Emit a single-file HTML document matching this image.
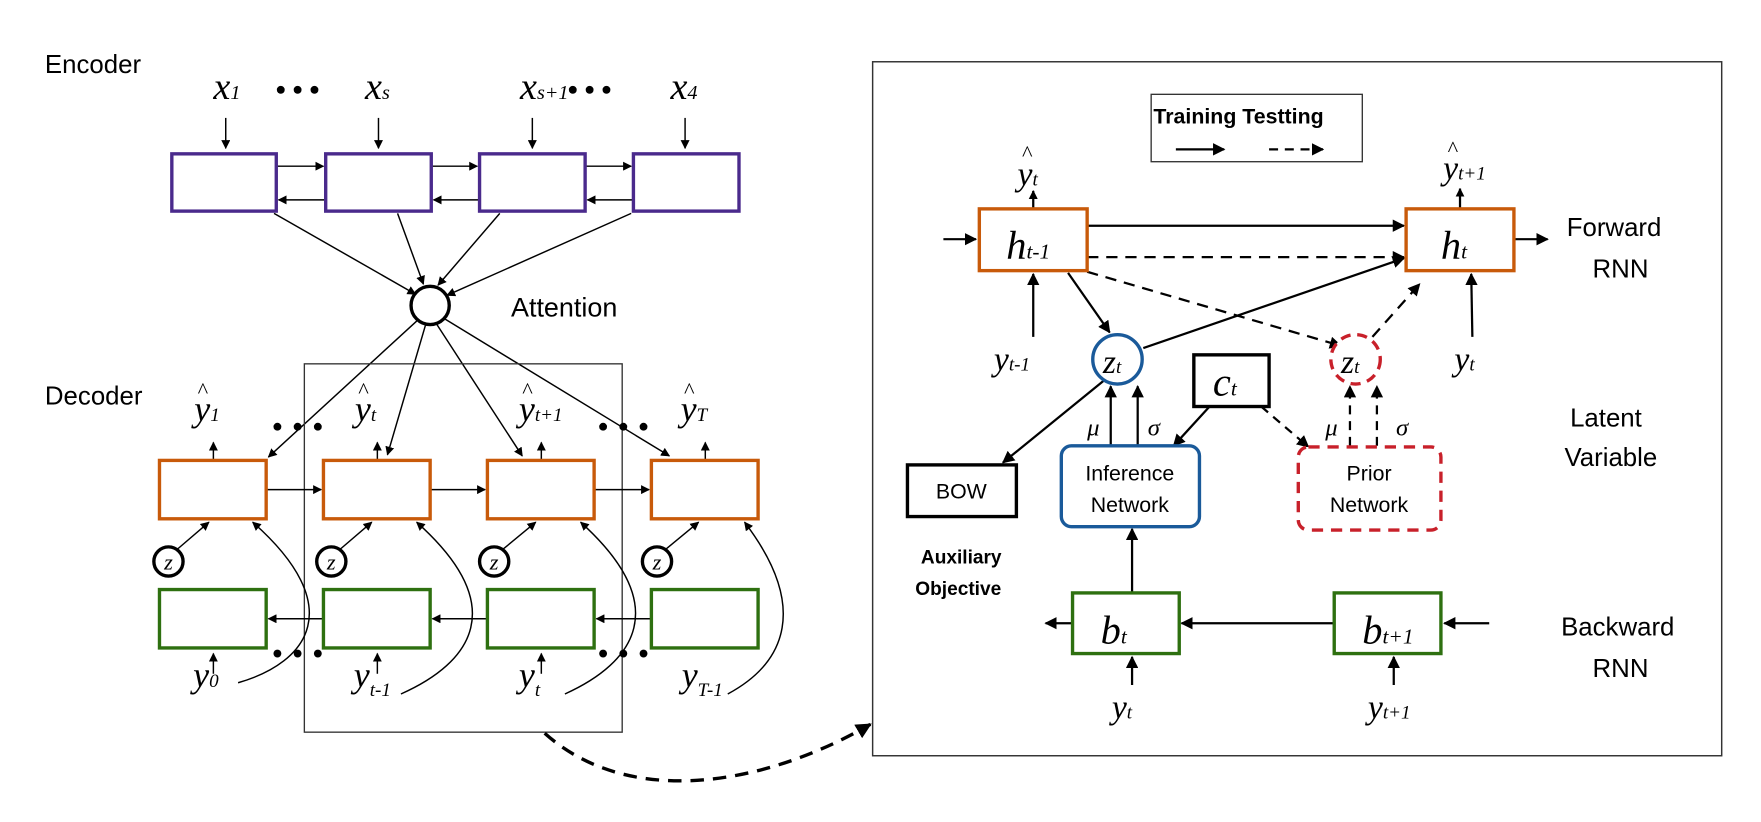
<!DOCTYPE html>
<html><head><meta charset="utf-8"><style>
body{margin:0;background:#fff}
svg{display:block}
.s{font-family:"Liberation Sans",sans-serif}
.m{font-family:"Liberation Serif",serif;font-style:italic}
</style></head><body>
<svg width="1761" height="822" viewBox="0 0 1568 732" preserveAspectRatio="none" xmlns="http://www.w3.org/2000/svg">
<defs>
<marker id="a" viewBox="0 0 10 10" refX="9" refY="5" markerWidth="8" markerHeight="8" orient="auto-start-reverse" markerUnits="userSpaceOnUse"><path d="M0,0L10,5L0,10z" fill="#000"/></marker>
<marker id="c" viewBox="0 0 10 10" refX="9" refY="5" markerWidth="11" markerHeight="11" orient="auto-start-reverse" markerUnits="userSpaceOnUse"><path d="M0,0L10,5L0,10z" fill="#000"/></marker>
<marker id="b" viewBox="0 0 10 10" refX="9" refY="5" markerWidth="14" markerHeight="14" orient="auto" markerUnits="userSpaceOnUse"><path d="M0,0L10,5L0,10z" fill="#000"/></marker>
</defs>
<g class="s" font-size="23">
<text x="40" y="65">Encoder</text>
<text x="40" y="360">Decoder</text>
<text x="455" y="282" font-size="24">Attention</text>
</g>
<g class="m" font-size="34">
<text x="190" y="88">x<tspan font-size="18">1</tspan></text>
<text x="325" y="88">x<tspan font-size="18">s</tspan></text>
<text x="463" y="88">x<tspan font-size="18">s+1</tspan></text>
<text x="597" y="88">x<tspan font-size="18">4</tspan></text>
</g>
<g fill="#000">
<circle cx="250" cy="80" r="3.5"/><circle cx="265" cy="80" r="3.5"/><circle cx="280" cy="80" r="3.5"/>
<circle cx="510" cy="80" r="3.5"/><circle cx="525" cy="80" r="3.5"/><circle cx="540" cy="80" r="3.5"/>
</g>
<g stroke="#000" stroke-width="1.3" fill="none">
<line x1="201" y1="105" x2="201" y2="132" marker-end="url(#a)"/>
<line x1="337" y1="105" x2="337" y2="132" marker-end="url(#a)"/>
<line x1="474" y1="105" x2="474" y2="132" marker-end="url(#a)"/>
<line x1="610" y1="105" x2="610" y2="132" marker-end="url(#a)"/>
<line x1="246" y1="148" x2="288" y2="148" marker-end="url(#a)"/>
<line x1="384" y1="148" x2="425" y2="148" marker-end="url(#a)"/>
<line x1="521" y1="148" x2="562" y2="148" marker-end="url(#a)"/>
<line x1="290" y1="178" x2="248" y2="178" marker-end="url(#a)"/>
<line x1="427" y1="178" x2="386" y2="178" marker-end="url(#a)"/>
<line x1="564" y1="178" x2="523" y2="178" marker-end="url(#a)"/>
<line x1="244" y1="190" x2="370" y2="262" marker-end="url(#a)"/>
<line x1="354" y1="190" x2="377" y2="253" marker-end="url(#a)"/>
<line x1="445" y1="190" x2="390" y2="254" marker-end="url(#a)"/>
<line x1="562" y1="190" x2="398" y2="263" marker-end="url(#a)"/>
<line x1="372" y1="285" x2="239" y2="407" marker-end="url(#a)"/>
<line x1="379" y1="289" x2="345" y2="405" marker-end="url(#a)"/>
<line x1="389" y1="289" x2="465" y2="406" marker-end="url(#a)"/>
<line x1="396" y1="284" x2="596" y2="406" marker-end="url(#a)"/>
</g>
<g fill="none" stroke="#4a2a8c" stroke-width="3">
<rect x="153" y="137" width="93" height="51"/><rect x="290" y="137" width="94" height="51"/>
<rect x="427" y="137" width="94" height="51"/><rect x="564" y="137" width="94" height="51"/>
</g>
<circle cx="383" cy="272" r="17" fill="#fff" stroke="#000" stroke-width="3"/>
<rect x="271" y="324" width="283" height="328" fill="none" stroke="#333" stroke-width="1.2"/>
<g class="m" font-size="32">
<text x="173" y="375">y<tspan font-size="17">1</tspan></text><text x="176" y="354" font-size="20" font-style="normal">^</text>
<text x="316" y="375">y<tspan font-size="17">t</tspan></text><text x="319" y="354" font-size="20" font-style="normal">^</text>
<text x="462" y="375">y<tspan font-size="17">t+1</tspan></text><text x="465" y="354" font-size="20" font-style="normal">^</text>
<text x="606" y="375">y<tspan font-size="17">T</tspan></text><text x="609" y="354" font-size="20" font-style="normal">^</text>
<text x="172" y="612">y<tspan font-size="17">0</tspan></text>
<text x="315" y="612">y<tspan font-size="17" dy="8">t-1</tspan></text>
<text x="462" y="612">y<tspan font-size="17" dy="8">t</tspan></text>
<text x="607" y="612">y<tspan font-size="17" dy="8">T-1</tspan></text>
</g>
<g fill="#000">
<circle cx="247" cy="380" r="3.5"/><circle cx="265" cy="380" r="3.5"/><circle cx="283" cy="380" r="3.5"/>
<circle cx="537" cy="380" r="3.5"/><circle cx="555" cy="380" r="3.5"/><circle cx="573" cy="380" r="3.5"/>
<circle cx="247" cy="582" r="3.5"/><circle cx="265" cy="582" r="3.5"/><circle cx="283" cy="582" r="3.5"/>
<circle cx="537" cy="582" r="3.5"/><circle cx="555" cy="582" r="3.5"/><circle cx="573" cy="582" r="3.5"/>
</g>
<g stroke="#000" stroke-width="1.3" fill="none">
<line x1="190" y1="410" x2="190" y2="394" marker-end="url(#a)"/>
<line x1="336" y1="410" x2="336" y2="394" marker-end="url(#a)"/>
<line x1="482" y1="410" x2="482" y2="394" marker-end="url(#a)"/>
<line x1="628" y1="410" x2="628" y2="394" marker-end="url(#a)"/>
<line x1="237" y1="436" x2="286" y2="436" marker-end="url(#a)"/>
<line x1="383" y1="436" x2="432" y2="436" marker-end="url(#a)"/>
<line x1="529" y1="436" x2="578" y2="436" marker-end="url(#a)"/>
<line x1="288" y1="551" x2="239" y2="551" marker-end="url(#a)"/>
<line x1="434" y1="551" x2="385" y2="551" marker-end="url(#a)"/>
<line x1="580" y1="551" x2="531" y2="551" marker-end="url(#a)"/>
<line x1="158" y1="489" x2="186" y2="465" marker-end="url(#a)"/>
<line x1="303" y1="489" x2="331" y2="465" marker-end="url(#a)"/>
<line x1="448" y1="489" x2="477" y2="465" marker-end="url(#a)"/>
<line x1="593" y1="489" x2="622" y2="465" marker-end="url(#a)"/>
<line x1="190" y1="600" x2="190" y2="582" marker-end="url(#a)"/>
<line x1="336" y1="600" x2="336" y2="582" marker-end="url(#a)"/>
<line x1="482" y1="600" x2="482" y2="582" marker-end="url(#a)"/>
<path d="M212,608 C275,590 310,540 225,465" marker-end="url(#a)"/>
<path d="M357,618 C420,590 455,540 371,465" marker-end="url(#a)"/>
<path d="M503,618 C565,590 600,540 517,465" marker-end="url(#a)"/>
<path d="M648,618 C700,590 720,540 663,465" marker-end="url(#a)"/>
<path d="M485,653 C560,720 680,700 775,645" stroke-width="3" stroke-dasharray="12,8" marker-end="url(#b)"/>
</g>
<g fill="none" stroke="#c85a0a" stroke-width="3">
<rect x="142" y="410" width="95" height="52"/><rect x="288" y="410" width="95" height="52"/>
<rect x="434" y="410" width="95" height="52"/><rect x="580" y="410" width="95" height="52"/>
</g>
<g fill="none" stroke="#2e7010" stroke-width="3">
<rect x="142" y="525" width="95" height="52"/><rect x="288" y="525" width="95" height="52"/>
<rect x="434" y="525" width="95" height="52"/><rect x="580" y="525" width="95" height="52"/>
</g>
<g fill="#fff" stroke="#000" stroke-width="3">
<circle cx="150" cy="500" r="13"/><circle cx="295" cy="500" r="13"/><circle cx="440" cy="500" r="13"/><circle cx="585" cy="500" r="13"/>
</g>
<g class="m" font-size="20" text-anchor="middle">
<text x="150" y="507">z</text><text x="295" y="507">z</text><text x="440" y="507">z</text><text x="585" y="507">z</text>
</g>

<rect x="777" y="55" width="756" height="618" fill="none" stroke="#333" stroke-width="1.3"/>
<rect x="1025" y="84" width="188" height="60" fill="none" stroke="#333" stroke-width="1.2"/>
<text x="1027" y="110" class="s" font-size="19" font-weight="bold">Training Testting</text>
<g stroke="#000" stroke-width="2" fill="none">
<line x1="1047" y1="133" x2="1090" y2="133" marker-end="url(#c)"/>
<line x1="1130" y1="133" x2="1178" y2="133" stroke-dasharray="8,6" marker-end="url(#c)"/>
</g>
<g class="s" font-size="23">
<text x="1395" y="210">Forward</text><text x="1418" y="247">RNN</text>
<text x="1398" y="380">Latent</text><text x="1393" y="415">Variable</text>
<text x="1390" y="566">Backward</text><text x="1418" y="603">RNN</text>
</g>
<g class="s" font-size="17" font-weight="bold">
<text x="820" y="502">Auxiliary</text><text x="815" y="530">Objective</text>
</g>
<g stroke="#000" stroke-width="2" fill="none">
<line x1="840" y1="213" x2="869" y2="213" marker-end="url(#c)"/>
<line x1="1348" y1="213" x2="1378" y2="213" marker-end="url(#c)"/>
<line x1="920" y1="186" x2="920" y2="170" marker-end="url(#a)"/>
<line x1="1300" y1="186" x2="1300" y2="168" marker-end="url(#a)"/>
<line x1="968" y1="201" x2="1250" y2="201" marker-end="url(#c)"/>
<line x1="968" y1="229" x2="1250" y2="229" stroke-dasharray="10,7" marker-end="url(#c)"/>
<line x1="968" y1="242" x2="1194" y2="308" stroke-dasharray="10,7" marker-end="url(#c)"/>
<line x1="951" y1="243" x2="988" y2="296" marker-end="url(#c)"/>
<line x1="1018" y1="310" x2="1250" y2="230" marker-end="url(#c)"/>
<line x1="1222" y1="300" x2="1264" y2="253" stroke-dasharray="10,7" marker-end="url(#c)"/>
<line x1="920" y1="300" x2="920" y2="244" marker-end="url(#c)"/>
<line x1="1311" y1="300" x2="1310" y2="244" marker-end="url(#c)"/>
<line x1="989" y1="397" x2="989" y2="344" marker-end="url(#c)"/>
<line x1="1013" y1="397" x2="1013" y2="344" marker-end="url(#c)"/>
<line x1="1202" y1="397" x2="1202" y2="344" stroke-dasharray="8,6" marker-end="url(#c)"/>
<line x1="1226" y1="397" x2="1226" y2="344" stroke-dasharray="8,6" marker-end="url(#c)"/>
<line x1="1077" y1="362" x2="1045" y2="397" marker-end="url(#c)"/>
<line x1="1123" y1="362" x2="1165" y2="398" stroke-dasharray="8,6" marker-end="url(#c)"/>
<line x1="984" y1="338" x2="893" y2="412" marker-end="url(#c)"/>
<line x1="1008" y1="528" x2="1008" y2="471" marker-end="url(#c)"/>
<line x1="1188" y1="555" x2="1052" y2="555" marker-end="url(#c)"/>
<line x1="955" y1="555" x2="931" y2="555" marker-end="url(#c)"/>
<line x1="1326" y1="555" x2="1286" y2="555" marker-end="url(#c)"/>
<line x1="1008" y1="610" x2="1008" y2="585" marker-end="url(#c)"/>
<line x1="1241" y1="610" x2="1241" y2="585" marker-end="url(#c)"/>
</g>
<g fill="#fff" stroke="#c85a0a" stroke-width="3">
<rect x="872" y="186" width="96" height="55"/><rect x="1252" y="186" width="96" height="55"/>
</g>
<g fill="#fff" stroke="#2e7010" stroke-width="3">
<rect x="955" y="528" width="95" height="54"/><rect x="1188" y="528" width="95" height="54"/>
</g>
<circle cx="995" cy="320" r="22" fill="#fff" stroke="#1a5a9a" stroke-width="3"/>
<circle cx="1207" cy="320" r="22" fill="#fff" stroke="#c8202a" stroke-width="3" stroke-dasharray="9,6"/>
<rect x="1063" y="316" width="67" height="46" fill="#fff" stroke="#000" stroke-width="3"/>
<rect x="808" y="414" width="97" height="46" fill="#fff" stroke="#000" stroke-width="3"/>
<rect x="945" y="397" width="123" height="72" rx="9" fill="#fff" stroke="#1a5a9a" stroke-width="3"/>
<rect x="1156" y="398" width="127" height="74" rx="9" fill="#fff" stroke="#c8202a" stroke-width="3" stroke-dasharray="10,7"/>
<g class="s" font-size="19" text-anchor="middle">
<text x="856" y="444">BOW</text>
<text x="1006" y="428">Inference</text><text x="1006" y="456">Network</text>
<text x="1219" y="428">Prior</text><text x="1219" y="456">Network</text>
</g>
<g class="m" font-size="36">
<text x="896" y="230">h<tspan font-size="19">t-1</tspan></text>
<text x="1283" y="230">h<tspan font-size="19">t</tspan></text>
<text x="980" y="573">b<tspan font-size="19">t</tspan></text>
<text x="1213" y="573">b<tspan font-size="19">t+1</tspan></text>
<text x="1080" y="352">c<tspan font-size="19">t</tspan></text>
</g>
<g class="m" font-size="30">
<text x="982" y="332">z<tspan font-size="17">t</tspan></text>
<text x="1194" y="332">z<tspan font-size="17">t</tspan></text>
<text x="906" y="165">y<tspan font-size="17">t</tspan></text><text x="910" y="143" font-size="20" font-style="normal">^</text>
<text x="1285" y="160">y<tspan font-size="17">t+1</tspan></text><text x="1289" y="139" font-size="20" font-style="normal">^</text>
<text x="885" y="330">y<tspan font-size="17">t-1</tspan></text>
<text x="1295" y="330">y<tspan font-size="17">t</tspan></text>
<text x="990" y="640">y<tspan font-size="17">t</tspan></text>
<text x="1218" y="640">y<tspan font-size="17">t+1</tspan></text>
</g>
<g class="m" font-size="22">
<text x="968" y="388">μ</text><text x="1022" y="388">σ</text>
<text x="1180" y="388">μ</text><text x="1243" y="388">σ</text>
</g>
</svg>
</body></html>
